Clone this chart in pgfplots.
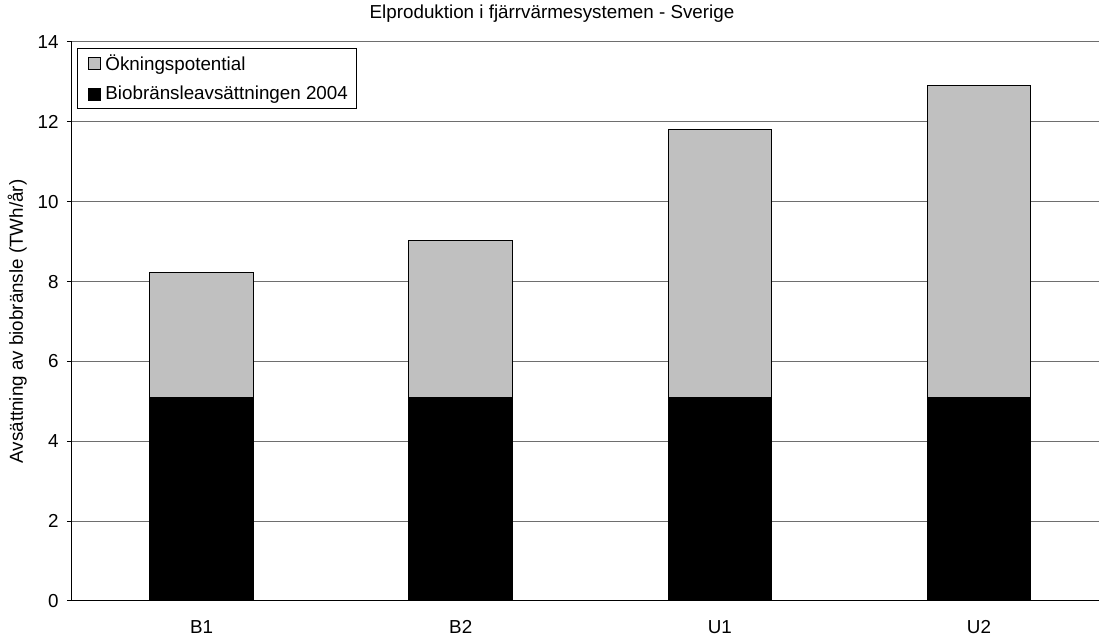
\documentclass[border=0pt]{standalone}
\usepackage{pgfplots}
\pgfplotsset{compat=1.18}
\usepackage{fontspec}
\setmainfont{Liberation Sans}
\definecolor{barGray}{RGB}{192,192,192}
\definecolor{gridGray}{RGB}{110,110,110}
\newcommand{\chartfont}{\fontsize{18.8}{22}\selectfont}
\begin{document}
\chartfont
\begin{tikzpicture}[x=1pt,y=1pt]
\useasboundingbox (-72,-38) rectangle (1027,601);
\begin{axis}[
  at={(0,0)}, anchor=south west,
  scale only axis, width=1027pt, height=559pt,
  xmin=-0.5, xmax=3.463,
  ymin=0, ymax=14,
  ytick={0,2,...,14},
  xtick={0,1,2,3},
  xticklabels={B1,B2,U1,U2},
  axis x line*=bottom, axis y line*=left,
  axis line style={black, line width=1pt, -},
  x tick style={draw=none},
  y tick style={black, line width=1pt},
  tick align=outside, major tick length=5pt,
  ymajorgrids, grid style={gridGray, line width=1pt},
  /pgf/number format/assume math mode=true,
  ticklabel style={font=\chartfont},
  yticklabel style={xshift=-2pt},
  xticklabel style={yshift=-8pt},
  ylabel={Avsättning av biobränsle (TWh/år)},
  ylabel style={font=\chartfont, yshift=-2pt},
  ybar stacked, bar width=0.40,
  reverse legend,
  legend style={at={(0.0049,0.989)}, anchor=north west, draw=black, line width=0.8pt,
    font=\chartfont, fill=white, row sep=9pt,
    inner xsep=6pt, inner ysep=4pt},
  legend cell align=left,
  legend image code/.code={\path (-4pt,0pt) (15pt,0pt);\draw[#1, line width=0.8pt] (0pt,-6pt) rectangle (12pt,6pt);},
]
\addplot[fill=black, draw=black, line width=1pt] coordinates {(0,5.1) (1,5.1) (2,5.1) (3,5.1)};
\addlegendentry{Biobränsleavsättningen 2004}
\addplot[fill=barGray, draw=black, line width=1pt] coordinates {(0,3.13) (1,3.94) (2,6.70) (3,7.81)};
\addlegendentry{Ökningspotential}
\end{axis}
\node at (480,587) {Elproduktion i fjärrvärmesystemen - Sverige};
\end{tikzpicture}
\end{document}
